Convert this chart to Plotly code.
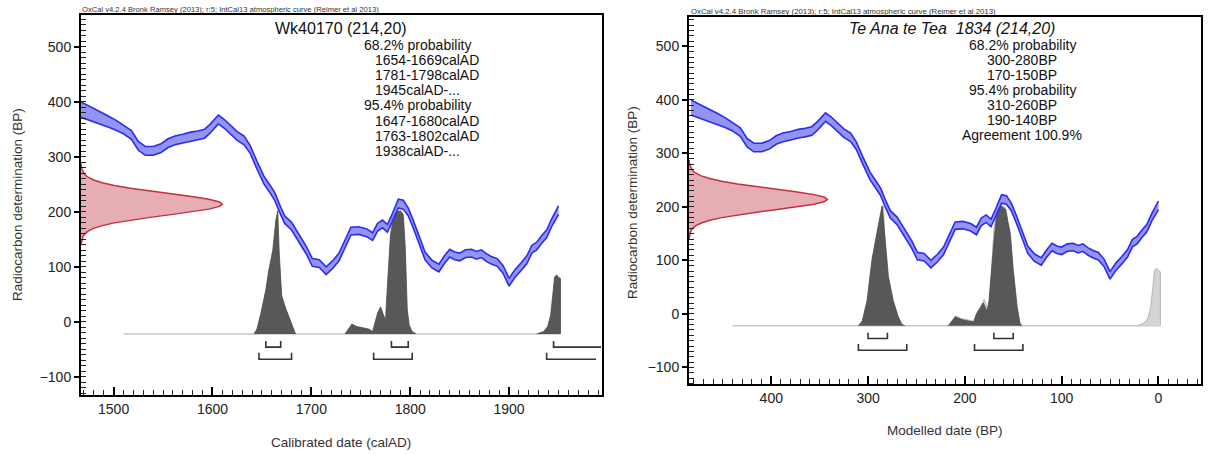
import plotly.graph_objects as go

# ---------------- data ----------------
# IntCal13 curve (calAD, 14C BP, 1-sigma half width)
curve_ad = [1467, 1475, 1485, 1495, 1503, 1510, 1518, 1525, 1532, 1540, 1548, 1555, 1562, 1570,
            1578, 1585, 1592, 1598, 1606, 1612, 1618, 1625, 1632, 1638, 1645, 1652, 1658, 1663,
            1668, 1673, 1680, 1688, 1695, 1701, 1708, 1715, 1722, 1728, 1735, 1740, 1748, 1756,
            1762, 1767, 1772, 1777, 1782, 1788, 1793, 1798, 1803, 1809, 1815, 1822, 1829, 1835,
            1840, 1845, 1850, 1856, 1862, 1867, 1872, 1877, 1882, 1888, 1894, 1900, 1906, 1912,
            1918, 1923, 1928, 1933, 1938, 1943, 1950]
curve_bp = [386, 380, 372, 364, 357, 350, 340, 320, 311, 311, 316, 325, 330, 333,
            337, 339, 342, 352, 368, 360, 350, 338, 330, 314, 285, 258, 242, 228,
            206, 186, 174, 150, 130, 108, 106, 93, 105, 118, 145, 165, 166, 162,
            155, 172, 178, 170, 190, 215, 213, 200, 178, 150, 120, 105, 98, 114,
            125, 120, 118, 124, 125, 121, 124, 117, 112, 108, 95, 72, 88, 100,
            113, 132, 138, 150, 160, 180, 203]
curve_err = [14, 13, 12, 10, 9, 8, 8, 8, 8, 8, 8, 8, 8, 8,
             8, 8, 8, 8, 8, 8, 8, 8, 8, 7, 7, 7, 7, 7,
             7, 7, 7, 7, 7, 7, 7, 7, 7, 7, 7, 7, 7, 7,
             7, 7, 7, 7, 7, 8, 8, 7, 7, 7, 7, 7, 7, 7,
             7, 7, 7, 7, 7, 7, 7, 7, 7, 7, 7, 7, 7, 7,
             7, 7, 7, 7, 7, 7, 8]

# radiocarbon measurement 214 +/- 20 BP (relative density)
meas_bp = [140, 145, 150, 155, 160, 165, 170, 175, 180, 185, 190, 195, 200, 205, 210, 214,
           218, 223, 228, 233, 238, 243, 248, 253, 258, 263, 268, 273, 278, 283, 288]
meas_w = [0.001, 0.003, 0.006, 0.013, 0.026, 0.05, 0.089, 0.15, 0.236, 0.35, 0.487, 0.637, 0.783,
          0.904, 0.98, 1.0, 0.98, 0.904, 0.783, 0.637, 0.487, 0.35, 0.236, 0.15, 0.089, 0.05,
          0.026, 0.013, 0.006, 0.003, 0.001]

# calibrated likelihood (calAD, relative probability), clusters separated by None
cal_ad = [1642, 1645, 1649, 1654, 1657, 1661, 1664, 1666, 1667.5, 1670, 1674, 1678, 1681, 1684, None,
          1734, 1738, 1741, 1746, 1752, 1758, 1762, 1764, 1767, 1770, 1772, 1775, 1777, 1780,
          1783, 1786, 1790, 1793, 1795, 1797, 1799, 1802, 1806, None,
          1928, 1935, 1939, 1942, 1944, 1946, 1948, 1950, 1952, 1952]
cal_p = [0, 0.04, 0.17, 0.36, 0.52, 0.68, 0.92, 1.0, 0.66, 0.31, 0.21, 0.12, 0.05, 0, None,
         0, 0.05, 0.08, 0.06, 0.05, 0.04, 0.02, 0.09, 0.17, 0.22, 0.17, 0.11, 0.4, 0.8,
         0.96, 0.99, 1.0, 0.97, 0.7, 0.2, 0.07, 0.02, 0, None,
         0, 0.02, 0.06, 0.15, 0.3, 0.46, 0.48, 0.46, 0.45, 0]

# modelled posterior (BP, relative probability)
post_bp = [310, 306, 301, 296, 291, 287, 285.5, 282, 279, 274, 269, 265, 262, None,
           217, 210, 203, 191, 188, 181, 177, 175, 170, 167, 163, 158, 153, 150, 146, 143, 141]
post_p = [0, 0.04, 0.21, 0.55, 0.77, 0.94, 1.0, 0.69, 0.41, 0.21, 0.08, 0.01, 0, None,
          0, 0.075, 0.05, 0.03, 0.1, 0.19, 0.12, 0.21, 0.69, 0.94, 1.0, 0.97, 0.77, 0.47, 0.16, 0.02, 0]

r68_left = [(1654, 1669), (1781, 1798), (1945, None)]
r95_left = [(1647, 1680), (1763, 1802), (1938, None)]
r68_right = [(300, 280), (170, 150)]
r95_right = [(310, 260), (190, 140)]

title_left = "Wk40170 (214,20)"
title_right = "<i>Te Ana te Tea  1834 (214,20)</i>"
lines_left = ["68.2% probability", "1654-1669calAD", "1781-1798calAD", "1945calAD-...",
              "95.4% probability", "1647-1680calAD", "1763-1802calAD", "1938calAD-..."]
lines_right = ["68.2% probability", "300-280BP", "170-150BP", "95.4% probability",
               "310-260BP", "190-140BP", "Agreement 100.9%"]
header = "OxCal v4.2.4 Bronk Ramsey (2013); r:5; IntCal13 atmospheric curve (Reimer et al 2013)"
ytick_vals = [-100, 0, 100, 200, 300, 400, 500]
xticks_left = [1500, 1600, 1700, 1800, 1900]
xticks_right = [400, 300, 200, 100, 0]

# ---------------- style / geometry ----------------
W, H = 1218, 454
FONT = "Liberation Sans, Arial, Helvetica, sans-serif"
XL = [1467, 1994]
XR = [485, -44]
YL = [-133, 558]
YR = [-131, 555]
BASE = -22
SCALE = 224
RED_W = 143
B68 = (-35, -46)
B95 = (-56, -68)
BAND_FILL = "rgba(128,128,238,0.85)"
BAND_LINE = "#2b2bf2"
DARK = "#585858"
LIGHT = "#d4d4d4"


def px(x):
    return x / W


def py(y):
    return 1 - y / H


def to_bp(ad_list):
    return [None if a is None else 1950 - a for a in ad_list]


fig = go.Figure()


def add_panel(xa, ya, cx, is_right):
    hi = [b + e for b, e in zip(curve_bp, curve_err)]
    lo = [b - e for b, e in zip(curve_bp, curve_err)]
    # red measurement distribution from the left axis
    x0 = XR[0] if is_right else XL[0]
    sgn = -1 if is_right else 1
    rx = [x0] + [x0 + sgn * w * RED_W for w in meas_w] + [x0]
    ry = [meas_bp[0]] + meas_bp + [meas_bp[-1]]
    fig.add_trace(go.Scatter(x=rx, y=ry, xaxis=xa, yaxis=ya, mode="lines", fill="toself",
                             fillcolor="rgba(214,120,130,0.6)", line=dict(color="#c2313d", width=1.5),
                             hoverinfo="skip", showlegend=False))
    # baseline
    bx = [1510, 1952] if not is_right else [1950 - 1510, 1950 - 1952]
    fig.add_trace(go.Scatter(x=bx, y=[BASE, BASE], xaxis=xa, yaxis=ya, mode="lines",
                             line=dict(color="#c8c8c8", width=1.5), hoverinfo="skip", showlegend=False))
    # distributions
    yy = [None if p is None else BASE + p * SCALE for p in cal_p]
    if is_right:
        fig.add_trace(go.Scatter(x=to_bp(cal_ad), y=yy, xaxis=xa, yaxis=ya, mode="lines",
                                 fill="toself", fillcolor=LIGHT, line=dict(color="#b4b4b4", width=1),
                                 hoverinfo="skip", showlegend=False))
        py2 = [None if p is None else BASE + p * SCALE for p in post_p]
        fig.add_trace(go.Scatter(x=post_bp, y=py2, xaxis=xa, yaxis=ya, mode="lines",
                                 fill="toself", fillcolor=DARK, line=dict(color="#4a4a4a", width=0.8),
                                 hoverinfo="skip", showlegend=False))
    else:
        fig.add_trace(go.Scatter(x=cal_ad, y=yy, xaxis=xa, yaxis=ya, mode="lines",
                                 fill="toself", fillcolor=DARK, line=dict(color="#4a4a4a", width=0.8),
                                 hoverinfo="skip", showlegend=False))
    # calibration curve band
    band_x = cx(curve_ad)
    fig.add_trace(go.Scatter(x=band_x + band_x[::-1], y=hi + lo[::-1], xaxis=xa, yaxis=ya,
                             mode="lines", fill="toself", fillcolor=BAND_FILL,
                             line=dict(width=0), hoverinfo="skip", showlegend=False))
    for arr in (hi, lo):
        fig.add_trace(go.Scatter(x=band_x, y=arr, xaxis=xa, yaxis=ya, mode="lines",
                                 line=dict(color=BAND_LINE, width=1.6), hoverinfo="skip",
                                 showlegend=False))
    # brackets
    for ranges, (top, bot), open_end in (
            (r68_right if is_right else r68_left, B68, 1993),
            (r95_right if is_right else r95_left, B95, 1988)):
        xs, ys = [], []
        for a, b in ranges:
            if b is None:
                xs += [a, a, open_end, None]
                ys += [top, bot, bot, None]
            else:
                xs += [a, a, b, b, None]
                ys += [top, bot, bot, top, None]
        fig.add_trace(go.Scatter(x=xs, y=ys, xaxis=xa, yaxis=ya, mode="lines",
                                 line=dict(color="#333333", width=1.6), hoverinfo="skip",
                                 showlegend=False))


add_panel("x", "y", lambda a: list(a), False)
add_panel("x2", "y2", lambda a: [1950 - v for v in a], True)

minor_x = dict(ticks="inside", ticklen=5, tickwidth=1.2, tickcolor="#222",
               tickmode="linear", tick0=0, dtick=10, showgrid=False)
axis_common = dict(showline=True, linecolor="black", linewidth=2, mirror=True, showgrid=False,
                   zeroline=False, tickfont=dict(family=FONT, size=14, color="#222"),
                   ticks="inside", ticklen=8, tickwidth=1.5, tickcolor="black", tickmode="linear",
                   minor=minor_x)
yaxis_common = dict(showline=True, linecolor="black", linewidth=2, mirror=True, showgrid=False,
                    zeroline=False, tickfont=dict(family=FONT, size=14, color="#222"),
                    ticks="outside", ticklen=5, tickwidth=1.5, tickcolor="black",
                    tickmode="linear", tick0=ytick_vals[0], dtick=ytick_vals[1] - ytick_vals[0],
                    minor=minor_x)

fig.update_layout(
    width=W, height=H, autosize=False, margin=dict(l=0, r=0, t=0, b=0),
    paper_bgcolor="white", plot_bgcolor="white",
    xaxis=dict(domain=[px(81), px(602)], range=XL, tick0=xticks_left[0],
               dtick=xticks_left[1] - xticks_left[0], anchor="y", **axis_common),
    yaxis=dict(domain=[py(395), py(15)], range=YL, anchor="x", **yaxis_common),
    xaxis2=dict(domain=[px(689), px(1201)], range=XR, tick0=xticks_right[-1],
                dtick=xticks_right[0] - xticks_right[1], anchor="y2", **axis_common),
    yaxis2=dict(domain=[py(384), py(17)], range=YR, anchor="x2", **yaxis_common),
    font=dict(family=FONT),
)

ann = []


def text(x, y, s, size=13, xanchor="center", angle=0, color="#111"):
    ann.append(dict(x=px(x), y=py(y), xref="paper", yref="paper", text=s, showarrow=False,
                    xanchor=xanchor, yanchor="middle", textangle=angle,
                    font=dict(family=FONT, size=size, color=color)))


text(80, 9, header, size=7.6, xanchor="left", color="#333")
text(689, 12, header, size=7.8, xanchor="left", color="#333")
text(341, 29, title_left, size=16)
text(952, 29, title_right, size=16)
for i, s in enumerate(lines_left):
    indent = not s.endswith("probability")
    text(373 if indent else 362, 45 + 15.1 * i, s, size=14, xanchor="left")
for i, s in enumerate(lines_right):
    text(1022, 45 + 15 * i, s, size=14)
text(341, 442, "Calibrated date (calAD)", size=13.5, color="#333")
text(945, 430, "Modelled date (BP)", size=13.5, color="#333")
text(17, 205, "Radiocarbon determination (BP)", size=13.5, angle=-90, color="#333")
text(632, 203, "Radiocarbon determination (BP)", size=13.5, angle=-90, color="#333")
fig.update_layout(annotations=ann)

fig.write_html("out.html", config={"displayModeBar": False},
               post_script="document.body.style.margin='0px';")
